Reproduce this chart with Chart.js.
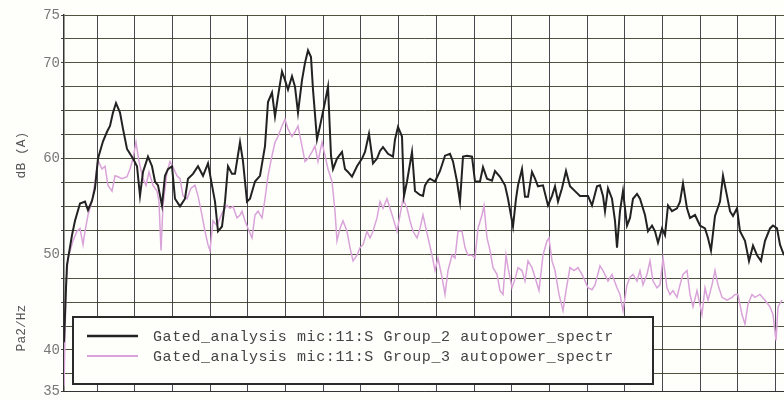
<!DOCTYPE html>
<html>
<head>
<meta charset="utf-8">
<script src="https://cdn.jsdelivr.net/npm/chart.js@4/dist/chart.umd.min.js"></script>
<style>
  body { margin: 0; background: #fefefb; }
  canvas { display: block; }
</style>
</head>
<body>
<canvas id="myChart" width="784" height="401"></canvas>
<script>
// Series labels
let seriesNames = [
  "Gated_analysis mic:11:S Group_2 autopower_spectr",
  "Gated_analysis mic:11:S Group_3 autopower_spectr"
];

// Y tick labels that are printed
let yLabels = [75, 70, 60, 50, 40, 35];

// Group_2 (black): frequency bin, dB
let binsG2 = [0, 2, 3, 8, 11, 16, 21, 24, 28, 31, 34, 39, 43, 46, 49, 52, 56, 59, 63, 66, 69, 73, 76, 79, 84, 88, 91, 94, 98, 101, 104, 108, 111, 116, 121, 124, 129, 134, 139, 144, 148, 151, 154, 158, 161, 164, 168, 171, 176, 179, 183, 186, 191, 196, 201, 204, 208, 211, 214, 218, 221, 224, 228, 231, 234, 238, 241, 244, 247, 249, 253, 256, 261, 264, 267, 269, 273, 278, 281, 284, 288, 293, 298, 301, 305, 309, 313, 316, 319, 324, 329, 331, 334, 338, 340, 343, 348, 351, 356, 359, 361, 364, 366, 371, 376, 381, 386, 389, 393, 396, 399, 403, 408, 411, 416, 419, 423, 428, 431, 436, 441, 444, 449, 452, 454, 458, 461, 464, 468, 471, 474, 479, 484, 488, 491, 494, 498, 502, 506, 511, 516, 521, 524, 528, 533, 536, 539, 541, 544, 548, 551, 553, 556, 559, 563, 566, 569, 573, 576, 581, 584, 588, 591, 594, 598, 601, 604, 608, 613, 616, 619, 623, 626, 631, 636, 641, 644, 647, 651, 656, 659, 663, 666, 669, 673, 676, 681, 685, 689, 693, 697, 701, 706, 709, 713, 716, 720];
let valuesG2 = [40.8, 46.5, 48.9, 52.0, 53.5, 55.3, 55.5, 54.6, 55.6, 56.9, 60.0, 61.8, 62.8, 63.4, 64.8, 65.8, 64.8, 63.1, 61.0, 60.5, 60.0, 59.2, 56.1, 58.6, 60.2, 59.2, 57.6, 57.2, 55.1, 58.2, 58.9, 59.2, 55.8, 55.0, 55.8, 57.9, 58.4, 59.2, 58.2, 59.5, 57.2, 55.5, 52.4, 52.9, 55.5, 59.2, 58.4, 58.4, 61.7, 59.7, 55.5, 55.8, 57.6, 58.2, 61.3, 65.9, 66.9, 64.4, 66.5, 69.1, 68.2, 67.2, 68.6, 67.5, 64.8, 68.2, 70.0, 71.3, 70.6, 67.2, 62.0, 63.4, 65.9, 67.5, 60.3, 58.9, 60.0, 60.7, 58.9, 58.6, 58.1, 59.2, 60.0, 60.7, 62.6, 59.5, 60.0, 60.8, 61.2, 60.5, 60.2, 62.0, 63.3, 62.3, 56.1, 57.6, 60.7, 56.6, 56.2, 56.1, 57.2, 57.7, 57.9, 57.6, 58.7, 60.3, 60.5, 59.7, 57.6, 55.5, 60.2, 60.3, 60.2, 57.6, 57.6, 59.1, 57.9, 57.7, 58.7, 58.1, 57.2, 55.8, 52.9, 55.8, 57.2, 58.9, 56.0, 56.0, 58.6, 57.9, 57.1, 57.2, 55.1, 56.1, 57.1, 55.5, 56.9, 58.7, 57.1, 56.6, 56.1, 56.1, 56.1, 55.1, 57.1, 57.2, 56.1, 54.5, 56.9, 55.8, 53.5, 50.7, 54.5, 56.6, 53.0, 53.8, 55.8, 56.3, 55.8, 54.1, 52.4, 53.0, 52.4, 51.2, 52.7, 52.0, 55.1, 54.5, 54.8, 55.5, 57.4, 54.8, 53.8, 54.1, 53.0, 52.7, 51.7, 50.4, 54.0, 55.5, 58.2, 56.1, 54.5, 54.0, 54.8, 52.4, 51.4, 49.3, 50.9, 49.9, 49.3, 51.4, 52.7, 53.0, 52.7, 51.0, 49.9];

// Group_3 (pink): frequency bin, dB
let binsG3 = [0, 2, 4, 9, 13, 16, 19, 21, 24, 28, 31, 34, 38, 41, 44, 48, 51, 54, 58, 63, 66, 69, 72, 75, 79, 82, 85, 89, 93, 95, 97, 99, 103, 106, 109, 113, 116, 119, 123, 127, 131, 134, 138, 141, 144, 146, 149, 153, 156, 159, 163, 166, 169, 173, 176, 178, 181, 184, 188, 191, 194, 198, 201, 204, 208, 211, 214, 218, 221, 224, 228, 231, 234, 238, 241, 244, 248, 251, 254, 258, 261, 264, 268, 271, 273, 276, 279, 283, 286, 289, 293, 296, 299, 303, 306, 309, 313, 316, 319, 323, 326, 329, 333, 336, 339, 343, 346, 349, 353, 356, 359, 363, 368, 371, 374, 378, 381, 384, 388, 391, 394, 398, 401, 404, 408, 411, 414, 418, 420, 423, 426, 429, 433, 436, 439, 442, 444, 448, 451, 454, 458, 461, 464, 468, 471, 475, 479, 483, 485, 488, 491, 495, 499, 502, 506, 510, 514, 518, 521, 524, 528, 531, 536, 539, 544, 548, 553, 556, 559, 563, 566, 569, 573, 576, 579, 583, 586, 589, 593, 596, 599, 603, 606, 609, 613, 616, 619, 623, 626, 629, 633, 635, 638, 641, 644, 648, 651, 654, 658, 663, 668, 671, 674, 678, 681, 684, 688, 691, 696, 701, 706, 709, 712, 714, 718];
let valuesG3 = [36.2, 46.5, 49.6, 51.4, 52.4, 52.7, 51.0, 52.4, 54.1, 55.5, 57.6, 59.8, 58.9, 59.2, 57.2, 56.6, 58.2, 58.1, 57.9, 58.1, 58.9, 60.0, 61.7, 59.7, 57.9, 57.2, 58.6, 57.2, 56.6, 55.5, 50.4, 55.1, 58.6, 59.7, 59.1, 58.2, 57.9, 56.1, 55.8, 56.9, 57.2, 56.1, 54.1, 52.4, 51.0, 50.4, 53.5, 53.0, 53.8, 54.5, 55.1, 54.8, 55.0, 53.8, 54.1, 54.5, 53.5, 52.7, 51.7, 54.1, 54.5, 53.8, 55.8, 58.2, 60.3, 61.7, 62.3, 63.4, 64.1, 63.1, 62.3, 62.8, 63.4, 61.3, 59.7, 60.0, 60.7, 61.3, 59.7, 61.7, 60.3, 58.9, 57.6, 54.5, 51.4, 52.7, 53.5, 52.4, 50.7, 49.3, 49.9, 50.7, 51.0, 52.4, 51.7, 52.4, 53.8, 55.5, 54.8, 55.8, 54.8, 53.8, 52.4, 54.1, 55.8, 54.8, 53.5, 52.4, 51.7, 52.7, 54.1, 52.2, 49.9, 48.3, 49.6, 47.6, 45.8, 48.3, 49.9, 49.6, 52.4, 52.4, 50.7, 49.9, 49.9, 49.6, 52.7, 54.1, 55.1, 51.7, 50.4, 48.6, 47.9, 46.2, 45.8, 49.9, 48.6, 46.5, 47.4, 48.6, 48.3, 47.2, 49.3, 48.6, 47.6, 46.2, 49.9, 51.4, 51.7, 49.3, 48.3, 45.8, 44.1, 46.2, 48.6, 48.3, 48.6, 47.9, 47.2, 46.5, 46.3, 46.8, 48.8, 48.3, 47.2, 47.9, 46.5, 45.8, 44.1, 46.8, 47.6, 47.9, 47.2, 48.3, 46.8, 47.9, 49.3, 47.2, 46.5, 46.8, 49.6, 46.5, 45.8, 46.2, 45.5, 46.8, 47.9, 48.3, 45.8, 44.5, 46.2, 45.2, 43.7, 46.5, 45.2, 46.8, 48.3, 46.8, 45.5, 45.2, 45.5, 45.8, 45.8, 43.7, 42.7, 44.8, 45.8, 45.5, 45.8, 45.2, 44.5, 43.7, 41.0, 44.5, 45.2];

function toPoints(xs, ys) {
  return xs.map((x, i) => ({ x: x, y: ys[i] }));
}

const monoFont = "'Liberation Mono', 'DejaVu Sans Mono', monospace";
const yMin = 35.65;

// Y axis titles (two separate texts on the left side)
const axisTitles = {
  id: "axisTitles",
  afterDraw(chart) {
    const ctx = chart.ctx;
    ctx.save();
    ctx.fillStyle = "#555";
    ctx.font = "13px " + monoFont;
    ctx.textAlign = "center";
    ctx.textBaseline = "middle";
    [["dB (A)", 155], ["Pa2/Hz", 328]].forEach(([t, y]) => {
      ctx.save();
      ctx.translate(22, y);
      ctx.rotate(-Math.PI / 2);
      ctx.fillText(t, 0, 0);
      ctx.restore();
    });
    ctx.restore();
  }
};

// Boxed legend inside the plot, painted over the lines
const boxLegend = {
  id: "boxLegend",
  afterDatasetsDraw(chart) {
    const ctx = chart.ctx;
    const x0 = 73, y0 = 317, w = 580, h = 67;
    ctx.save();
    ctx.fillStyle = "#fefefb";
    ctx.fillRect(x0, y0, w, h);
    ctx.strokeStyle = "#2a2a2a";
    ctx.lineWidth = 2;
    ctx.strokeRect(x0, y0, w, h);
    ctx.font = "15px " + monoFont;
    ctx.letterSpacing = "0.6px";
    ctx.textBaseline = "middle";
    chart.data.datasets.forEach((ds, i) => {
      const y = 336 + i * 20;
      ctx.strokeStyle = ds.borderColor;
      ctx.lineWidth = ds.borderWidth + 0.5;
      ctx.beginPath();
      ctx.moveTo(87, y);
      ctx.lineTo(138, y);
      ctx.stroke();
      ctx.fillStyle = "#444";
      ctx.fillText(ds.label, 153, y + 1);
    });
    ctx.restore();
  }
};

new Chart("myChart", {
  type: "line",
  data: {
    datasets: [{
      label: seriesNames[0],
      data: toPoints(binsG2, valuesG2),
      borderColor: "#222",
      borderWidth: 2,
      pointRadius: 0,
      tension: 0
    }, {
      label: seriesNames[1],
      data: toPoints(binsG3, valuesG3),
      borderColor: "#d9a3d9",
      borderWidth: 1.5,
      pointRadius: 0,
      tension: 0
    }]
  },
  options: {
    responsive: false,
    animation: false,
    layout: { padding: { top: 15, bottom: 6, left: 0, right: 0 } },
    plugins: {
      legend: { display: false },
      tooltip: { enabled: false }
    },
    scales: {
      x: {
        type: "linear",
        min: 0,
        max: 720,
        afterBuildTicks: scale => {
          let t = [];
          for (let v = 33; v < 720; v += 37.7) t.push({ value: v });
          scale.ticks = t;
        },
        afterFit: scale => { scale.height = 0; },
        ticks: { display: false },
        grid: { color: "rgba(40,40,50,0.85)", lineWidth: 1, drawTicks: false },
        border: { color: "#333", width: 1 }
      },
      y: {
        min: yMin,
        max: 75,
        afterBuildTicks: scale => {
          let t = [{ value: yMin }];
          for (let v = 37.5; v <= 75; v += 2.5) t.push({ value: v });
          scale.ticks = t;
        },
        afterFit: scale => { scale.width = 64; },
        ticks: {
          color: "#777",
          font: { family: monoFont, size: 14 },
          padding: 1,
          autoSkip: false,
          callback: v => {
            if (Math.abs(v - yMin) < 0.01) return "35";
            return yLabels.includes(v) ? String(v) : "";
          }
        },
        grid: {
          color: "rgba(50,50,30,0.85)",
          lineWidth: 1,
          tickLength: 3,
          tickColor: "#444"
        },
        border: { color: "#333", width: 1.5 }
      }
    }
  },
  plugins: [boxLegend, axisTitles]
});
</script>
</body>
</html>
